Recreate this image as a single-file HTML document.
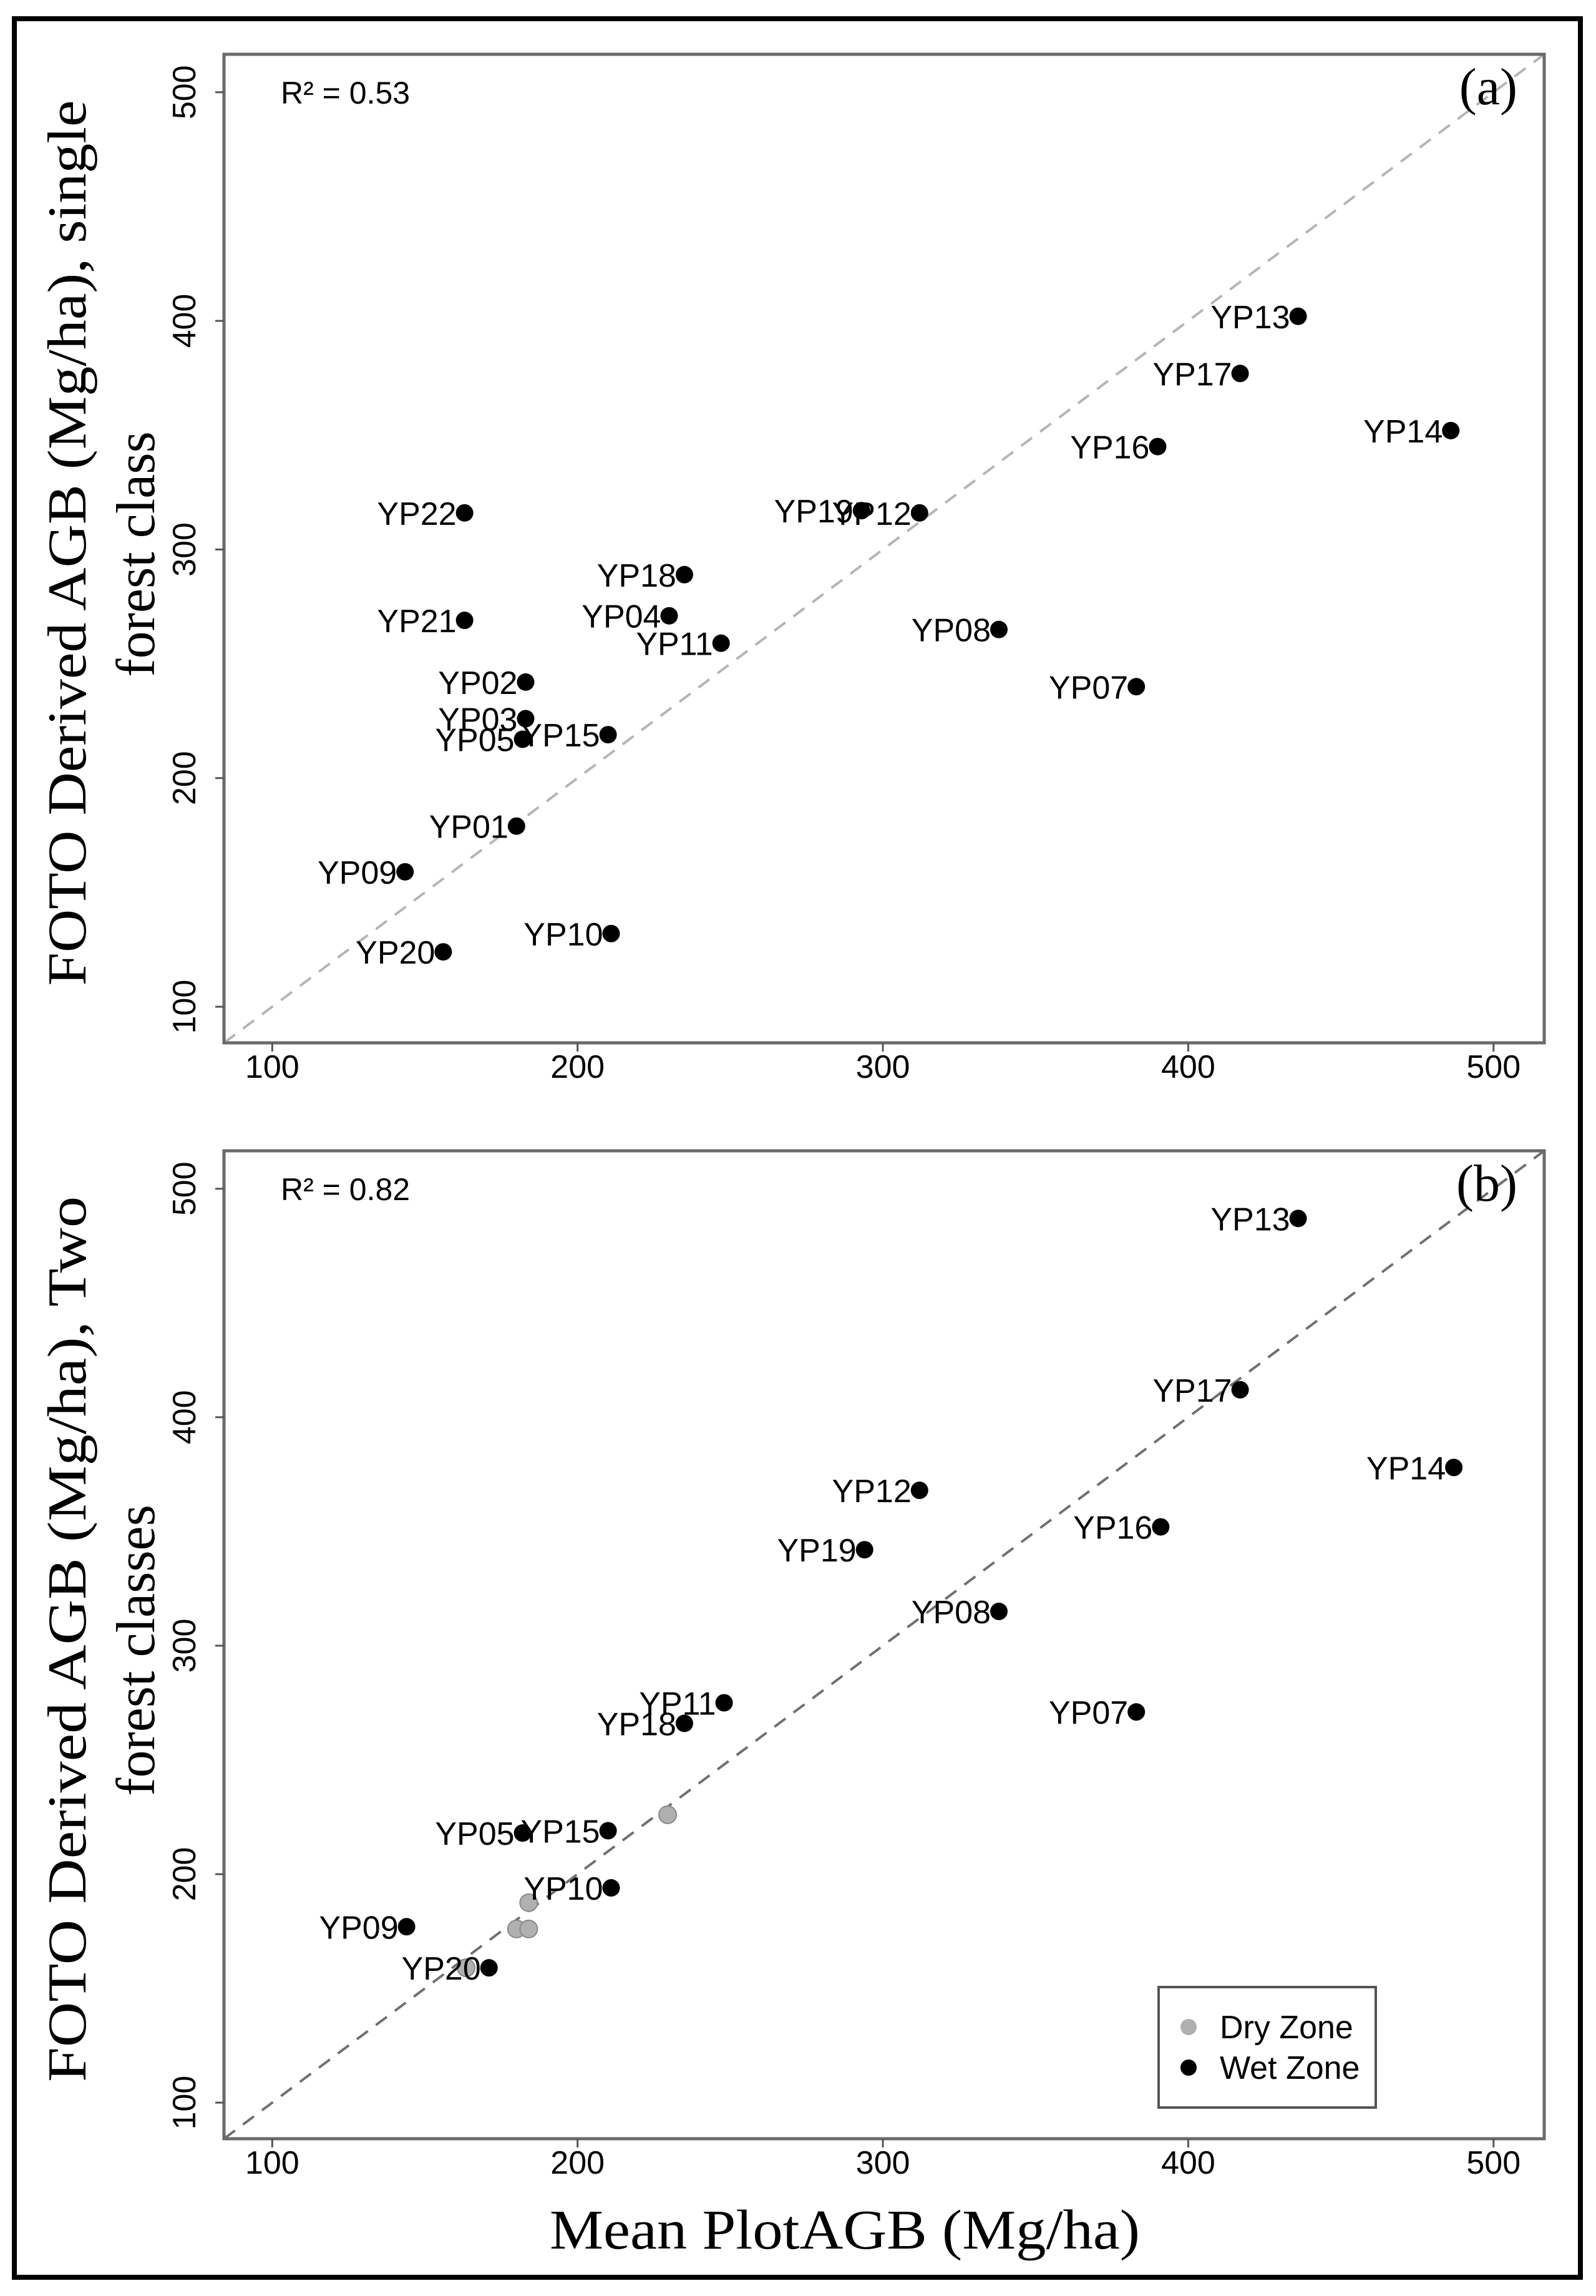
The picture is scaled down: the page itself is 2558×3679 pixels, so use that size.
<!DOCTYPE html>
<html><head><meta charset="utf-8"><style>
html,body{margin:0;padding:0;background:#fff;}
svg{display:block;}
.sans{font-family:"Liberation Sans",Arial,sans-serif;}
.serif{font-family:"Liberation Serif","Times New Roman",serif;}
</style></head>
<body>
<svg id="fig" width="2558" height="3679" viewBox="0 0 2558 3679" xmlns="http://www.w3.org/2000/svg">
<rect x="0" y="0" width="2558" height="3679" fill="#fff"/>
<rect x="23" y="30" width="2510" height="3619" fill="none" stroke="#000" stroke-width="8"/>
<text class="serif" x="1354" y="3603" font-size="90" text-anchor="middle" textLength="946" lengthAdjust="spacingAndGlyphs">Mean PlotAGB (Mg/ha)</text>
<g id="pa"></g>
<g id="pb"></g>
</svg>
<script>
const xTicks = [100, 200, 300, 400, 500];
const yTicks = [100, 200, 300, 400, 500];
const aLabels = ["YP13","YP17","YP16","YP14","YP22","YP19","YP12","YP18","YP04","YP11","YP21","YP08","YP02","YP07","YP03","YP05","YP15","YP01","YP09","YP10","YP20"];
const aX = [436,417,390,486,163,293,312,235,230,247,163,338,183,383,183,182,210,180,143.5,211,156];
const aY = [402,377,345,352,316,317,316,289,271,259,269,265,242,240,226,217,219,179,159,132,124];
const bLabels = ["YP13","YP17","YP14","YP12","YP16","YP19","YP08","YP07","YP11","YP18","YP05","YP15","YP10","YP09","YP20"];
const bX = [436,417,487,312,391,294,338,383,248,235,182,210,211,144,171];
const bY = [487,412,378,368,352,342,315,271,275,266,218,219,194,177,159];
const dryX = [229.5,184,180,184,163.5];
const dryY = [226,187.5,176,176,159];

const NS = "http://www.w3.org/2000/svg";
function mk(tag, attrs, parent){
  const e = document.createElementNS(NS, tag);
  for (const k in attrs) e.setAttribute(k, attrs[k]);
  parent.appendChild(e);
  return e;
}
const L = 359, R = 2475, DMIN = 84.2, DMAX = 516.6;
function sx(v){ return L + (v - DMIN) / (DMAX - DMIN) * (R - L); }

function panel(g, top, bottom, tag, r2, diagColor, labels, xs, ys, dry, ttl1, ttl2){
  function sy(v){ return bottom - (v - DMIN) / (DMAX - DMIN) * (bottom - top); }
  const d = mk('line', {x1:sx(DMIN), y1:sy(DMIN), x2:sx(DMAX), y2:sy(DMAX), stroke:diagColor, 'stroke-width':4, 'stroke-dasharray':'22 16'}, g);
  
  
  const f = mk('rect', {x:L, y:top, width:R-L, height:bottom-top, fill:'none', stroke:'#6a6a6a', 'stroke-width':5}, g);
  
  
  xTicks.forEach(t => {
    const tl = mk('line', {x1:sx(t), y1:bottom, x2:sx(t), y2:bottom+14, stroke:'#555', 'stroke-width':3}, g);
    
    
    const tx = mk('text', {x:sx(t), y:bottom+56, 'font-size':52, 'text-anchor':'middle', class:'sans'}, g);
    tx.textContent = t;
    
    
  });
  yTicks.forEach(t => {
    const tl = mk('line', {x1:L-14, y1:sy(t), x2:L, y2:sy(t), stroke:'#555', 'stroke-width':3}, g);
    
    
    const tx = mk('text', {x:0, y:0, 'font-size':52, 'text-anchor':'middle', class:'sans', transform:`translate(313,${sy(t)}) rotate(-90)`}, g);
    tx.textContent = t;
    
    
  });
  const cy = (top + bottom) / 2;
  const t1 = mk('text', {x:0, y:0, 'font-size':88, 'text-anchor':'middle', class:'serif', textLength:1419, lengthAdjust:'spacingAndGlyphs', transform:`translate(137,${cy-9}) rotate(-90)`}, g);
  t1.textContent = ttl1;
  
  
  const t2 = mk('text', {x:0, y:0, 'font-size':88, 'text-anchor':'middle', class:'serif', transform:`translate(247,${cy+9}) rotate(-90)`}, g);
  t2.textContent = ttl2;
  
  
  const rt = mk('text', {x:450, y:top+79, 'font-size':50, class:'sans'}, g);
  rt.textContent = r2;
  
  
  const pt = mk('text', {x:2432, y:top+80, 'font-size':84, 'text-anchor':'end', class:'serif'}, g);
  pt.textContent = tag;
  
  
  if (dry) {
    dry.x.forEach((v, i) => {
      const c = mk('circle', {cx:sx(v), cy:sy(dry.y[i]), r:14, fill:'#b0b0b0', stroke:'#888', 'stroke-width':2}, g);
      
      
    });
  }
  labels.forEach((lab, i) => {
    const px = sx(xs[i]), py = sy(ys[i]);
    const c = mk('circle', {cx:px, cy:py, r:14, fill:'#000'}, g);
    
    
    const t = mk('text', {x:px-13, y:py+19, 'font-size':52, 'text-anchor':'end', class:'sans'}, g);
    t.textContent = lab;
    
    
  });
}
panel(document.getElementById('pa'), 87, 1671, '(a)', 'R² = 0.53', '#b5b5b5', aLabels, aX, aY, null,
  'FOTO Derived AGB (Mg/ha), single', 'forest class');
panel(document.getElementById('pb'), 1844, 3427, '(b)', 'R² = 0.82', '#707070', bLabels, bX, bY, {x:dryX, y:dryY},
  'FOTO Derived AGB (Mg/ha), Two', 'forest classes');

const pb = document.getElementById('pb');
const lg = mk('g', {}, pb);


mk('rect', {x:1857, y:3184, width:348, height:193, fill:'#fff', stroke:'#555', 'stroke-width':4}, lg);
const d1 = mk('circle', {cx:1905, cy:3248, r:13, fill:'#b0b0b0'}, lg);


const l1 = mk('text', {x:1955, y:3266, 'font-size':52, class:'sans'}, lg);
l1.textContent = 'Dry Zone';


const d2 = mk('circle', {cx:1905, cy:3313, r:13, fill:'#000'}, lg);


const l2 = mk('text', {x:1955, y:3331, 'font-size':52, class:'sans'}, lg);
l2.textContent = 'Wet Zone';


</script>
</body></html>
